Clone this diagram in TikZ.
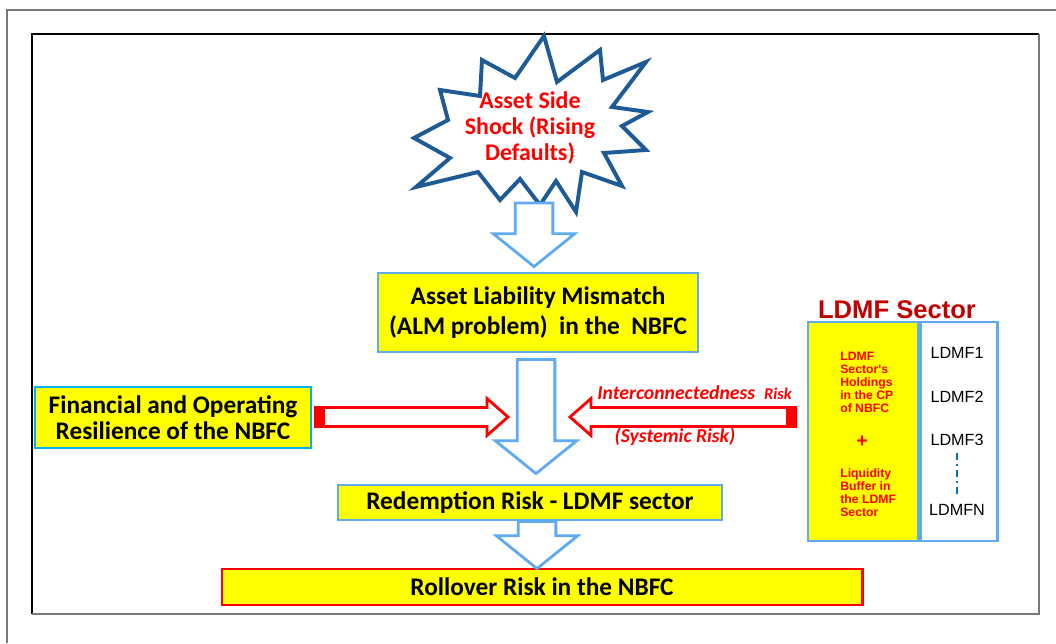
\documentclass[tikz,border=0pt]{standalone}
\usepackage{fontspec}
\setmainfont{Carlito}
\newfontfamily\arialfont{Liberation Sans}
\usetikzlibrary{calc,positioning}
\definecolor{boxyellow}{RGB}{255,255,0}
\definecolor{boxblue}{RGB}{95,170,240}
\definecolor{cyanblue}{RGB}{0,176,240}
\definecolor{starblue}{RGB}{30,90,150}
\definecolor{darkred}{RGB}{192,0,0}
\definecolor{dotblue}{RGB}{0,112,192}
\definecolor{framegray}{RGB}{120,120,120}
% hollow block arrows: tail, tip
\newcommand{\downarrowshape}[2]{%
  \draw[downline] let \p1=(#1), \p2=(#2) in
    (\x2-13.4pt,\y1) -- (\x2-13.4pt,\y2+23.4pt) -- (\x2-29pt,\y2+23.4pt) -- (\p2)
    -- (\x2+29pt,\y2+23.4pt) -- (\x2+13.4pt,\y2+23.4pt) -- (\x2+13.4pt,\y1) -- cycle;}
\newcommand{\sidearrow}[3]{%
  \draw[sideline] let \p1=(#1), \p2=(#2), \n1={#3*14.9pt} in
    (\x1,\y2+6.7pt) -- (\x2-\n1,\y2+6.7pt) -- (\x2-\n1,\y2+13.1pt) -- (\p2)
    -- (\x2-\n1,\y2-13.1pt) -- (\x2-\n1,\y2-6.7pt) -- (\x1,\y2-6.7pt) -- cycle;
  \fill[red] let \p1=(#1), \p2=(#2), \n2={#3*7pt} in (\x1,\y2-7.7pt) rectangle (\x1+\n2,\y2+7.7pt);}

\begin{document}
\begin{tikzpicture}[
    x=0.025cm, y=-0.025cm,
    every node/.style={inner sep=0pt},
    block/.style={rectangle, draw=boxblue, line width=2pt, fill=boxyellow, align=center, font=\bfseries\fontsize{18}{21.3}\selectfont},
    redblock/.style={block, draw=red},
    downline/.style={draw=boxblue, line width=2pt, fill=white, line join=miter},
    sideline/.style={draw=red, line width=2pt, fill=white, line join=miter},
    riskfont/.style={text=red, font=\bfseries\itshape\fontsize{14}{16}\selectfont},
    fundfont/.style={font=\arialfont\fontsize{11.5}{13}\selectfont},
    smallred/.style={text=red, align=left, font=\arialfont\bfseries\fontsize{8.7}{9.2}\selectfont}
  ]
  \useasboundingbox (0,0) rectangle (1056,643);
  % Frames
  \draw[framegray, line width=1pt] (7,643) -- (7,10) -- (1056,10);
  \draw[black, line width=0.8pt] (32,614) -- (32,34) -- (1039,34);
  \draw[framegray, line width=1.2pt] (32,614) -- (1039,614) -- (1039,34);
  % Shock star
  \draw[draw=starblue, line width=2.8pt, fill=white, line join=miter]
    (544,36) -- (557,82) -- (600,50) -- (603,80) -- (646,62) -- (612,107)
    -- (648,112) -- (622,126) -- (646,150) -- (604,153) -- (622,186) -- (582,172)
    -- (576,212) -- (556,181) -- (540,205) -- (520,179) -- (500,200) -- (478,172)
    -- (416,187) -- (450,158) -- (414,138) -- (448,120) -- (440,90) -- (480,96)
    -- (482,60) -- (515,78) -- cycle;
  \node[text=red, align=center, font=\bfseries\fontsize{17}{18.6}\selectfont] (shock) at (530,128) {Asset Side\\Shock (Rising\\Defaults)};
  \coordinate (shockbase) at (534,203);
  % Nodes
  \node[block, minimum width=8cm, minimum height=1.975cm] (alm) at (538,312.5) {Asset Liability Mismatch\\(ALM problem)~ in the~ NBFC};
  \node[block, draw=cyanblue, minimum width=6.9cm, minimum height=1.525cm, font=\bfseries\fontsize{18}{18.6}\selectfont] (fin) at (173,417.5) {Financial and Operating\\Resilience of the NBFC};
  \node[block, minimum width=9.6cm, minimum height=0.875cm] (redem) at (530,502.5) {Redemption Risk - LDMF sector};
  \node[redblock, minimum width=16cm, minimum height=0.9cm] (roll) at (542,587) {Rollover Risk in the NBFC};
  % LDMF sector
  \node[rectangle, draw=boxblue, line width=2pt, fill=boxyellow, minimum width=2.75cm, minimum height=5.475cm] (holdings) at (863,431.5) {};
  \node[rectangle, draw=boxblue, line width=2pt, fill=white, minimum width=1.925cm, minimum height=5.475cm, right=0pt of holdings] (funds) {};
  \node[text=darkred, font=\arialfont\bfseries\fontsize{18.2}{20}\selectfont] (sectortitle) at (897,310) {LDMF Sector};
  \node[smallred, anchor=west] (cptext) at (840,382.5) {LDMF\\Sector's\\Holdings\\in the CP\\of NBFC};
  \node[text=red, font=\arialfont\bfseries\fontsize{14}{14}\selectfont] (plus) at (862,442) {+};
  \node[smallred, anchor=west] (buffertext) at (840,492.5) {Liquidity\\Buffer in\\the LDMF\\Sector};
  \foreach \name/\yy in {1/353, 2/397, 3/440, N/510}
    \node[fundfont] (fund\name) at (957,\yy) {LDMF\name};
  \draw[dotblue, line width=1pt, dash pattern=on 5pt off 3pt on 1pt off 3pt, shorten <=5pt, shorten >=6pt] (fund3.south) -- (fund3.south |- fundN.north);
  % Risk labels
  \node[riskfont, anchor=west] (interrisk) at (597,393) {Interconnectedness~ {\fontsize{11.7}{12}\selectfont Risk}};
  \node[riskfont] (sysrisk) at (675,437) {(Systemic Risk)};
  % Lines
  \coordinate (joinL) at (508,417);
  \coordinate (joinR) at (570,417);
  \downarrowshape{shockbase}{$(alm.north)+(-4,-5)$}
  \downarrowshape{$(alm.south)+(0,6)$}{$(redem.north)+(6,-10)$}
  \downarrowshape{redem.south}{$(roll.north)+(-5,1)$}
  \sidearrow{$(fin.east)+(3,0)$}{joinL}{1}
  \sidearrow{$(holdings.west)+(-11,0)$}{joinR}{-1}
\end{tikzpicture}
\end{document}
